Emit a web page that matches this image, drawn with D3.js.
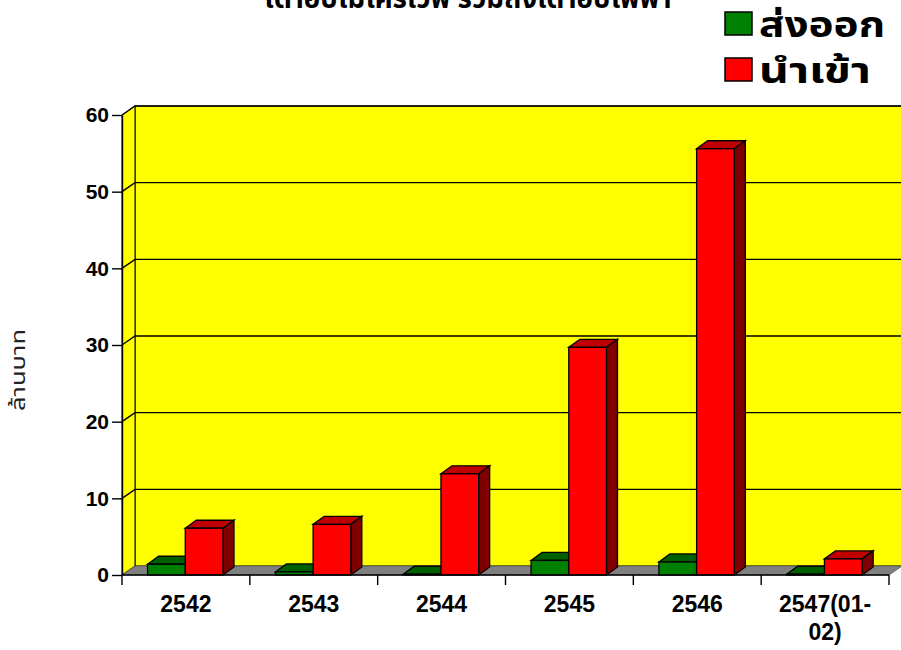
<!DOCTYPE html>
<html>
<head>
<meta charset="utf-8">
<script src="https://cdn.jsdelivr.net/npm/d3@7/dist/d3.min.js"></script>
<style>
  body { margin: 0; background: #fff; }
  svg { display: block; }
  .tick text { font-family: "Liberation Sans", Arial, sans-serif; font-weight: bold; fill: #000; }
</style>
</head>
<body>
<div id="chart"></div>
<script>
const categories = ["2542", "2543", "2544", "2545", "2546", "2547(01-02)"];
const xTickLabels = [["2542"], ["2543"], ["2544"], ["2545"], ["2546"], ["2547(01-", "02)"]];
const seriesNames = ["ส่งออก", "นำเข้า"];
const exportValues = [1.4, 0.4, 0.1, 1.9, 1.7, 0.1];
const importValues = [6.1, 6.6, 13.2, 29.7, 55.6, 2.1];
const yTicks = [0, 10, 20, 30, 40, 50, 60];
const titleText = "เตาอบไมโครเวฟ รวมถึงเตาอบไฟฟ้า";
const yLabel = "ล้านบาท";

const width = 901, height = 650;
const plotLeft = 122, plotRight = 889, plotTop = 115, plotBottom = 575;
// 3d depth of the walls and of the bars
const wdx = 13, wdy = -9;
const bdx = 11, bdy = -8;

const colors = [
  {front: "#008000", top: "#006000", side: "#004000"},
  {front: "#ff0000", top: "#c00000", side: "#800000"}
];

const svg = d3.select("#chart").append("svg")
  .attr("width", width)
  .attr("height", height);

const y = d3.scaleLinear().domain([0, 60]).range([plotBottom, plotTop]);
const x = d3.scaleBand().domain(categories).range([plotLeft, plotRight]);
const x1 = d3.scaleBand().domain(seriesNames)
  .range([0.2 * x.bandwidth(), 0.79 * x.bandwidth()]);

const thai = '"Noto Sans Thai", Tahoma, "Noto Sans", "DejaVu Sans", sans-serif';

// title, mostly cut off at top (as in the source image)
svg.append("text")
  .attr("x", 468)
  .attr("y", 8)
  .attr("text-anchor", "middle")
  .attr("font-family", thai)
  .attr("font-weight", "bold")
  .attr("font-size", 29)
  .attr("textLength", 407)
  .attr("lengthAdjust", "spacingAndGlyphs")
  .text(titleText);

// back wall
svg.append("rect")
  .attr("x", plotLeft + wdx)
  .attr("y", y(60) + wdy)
  .attr("width", width - plotLeft - wdx + 5)
  .attr("height", y(0) - y(60))
  .attr("fill", "#ffff00")
  .attr("stroke", "#000");

// left wall
svg.append("path")
  .attr("d", `M${plotLeft},${y(60)} L${plotLeft + wdx},${y(60) + wdy} L${plotLeft + wdx},${y(0) + wdy} L${plotLeft},${y(0)} Z`)
  .attr("fill", "#ffff00")
  .attr("stroke", "#000");

// gridlines
yTicks.filter(v => v > 0).forEach(v => {
  svg.append("path")
    .attr("d", `M${plotLeft},${y(v)} L${plotLeft + wdx},${y(v) + wdy} L${width + 5},${y(v) + wdy}`)
    .attr("fill", "none")
    .attr("stroke", "#000")
    .attr("stroke-width", 1.4);
});

// floor
svg.append("path")
  .attr("d", `M${plotLeft},${y(0)} L${plotRight},${y(0)} L${plotRight + wdx},${y(0) + wdy} L${plotLeft + wdx},${y(0) + wdy} Z`)
  .attr("fill", "#808080")
  .attr("stroke", "#555")
  .attr("stroke-width", 0.8);

// bars
function bar3d(g, x0, w, y0, y1, c) {
  g.append("path")
    .attr("d", `M${x0},${y1} L${x0 + bdx},${y1 + bdy} L${x0 + w + bdx},${y1 + bdy} L${x0 + w},${y1} Z`)
    .attr("fill", c.top).attr("stroke", "#000").attr("stroke-width", 1.3);
  g.append("path")
    .attr("d", `M${x0 + w},${y1} L${x0 + w + bdx},${y1 + bdy} L${x0 + w + bdx},${y0 + bdy} L${x0 + w},${y0} Z`)
    .attr("fill", c.side).attr("stroke", "#000").attr("stroke-width", 1.3);
  g.append("rect")
    .attr("x", x0).attr("y", y1)
    .attr("width", w).attr("height", y0 - y1)
    .attr("fill", c.front).attr("stroke", "#000").attr("stroke-width", 1.3);
}

const bars = svg.append("g");
categories.forEach((cat, i) => {
  [exportValues, importValues].forEach((vals, s) => {
    bar3d(bars, x(cat) + x1(seriesNames[s]), x1.bandwidth(), y(0), y(vals[i]), colors[s]);
  });
});

// y axis
svg.append("g")
  .attr("transform", `translate(${plotLeft},0)`)
  .call(d3.axisLeft(y).tickValues(yTicks).tickSize(10).tickSizeOuter(0).tickPadding(3))
  .call(g => g.selectAll("line, path").attr("stroke", "#000").attr("stroke-width", 1.4))
  .call(g => g.selectAll("text").attr("font-size", 21));

// x axis: ticks at band edges, labels centered
const xAxis = svg.append("g").attr("transform", `translate(0,${plotBottom})`);
xAxis.append("line")
  .attr("x1", plotLeft).attr("x2", plotRight)
  .attr("stroke", "#000").attr("stroke-width", 1.4);
categories.concat([null]).forEach(cat => {
  const xp = cat === null ? plotRight : x(cat);
  xAxis.append("line")
    .attr("x1", xp).attr("x2", xp)
    .attr("y1", 0).attr("y2", 10)
    .attr("stroke", "#000").attr("stroke-width", 1.4);
});
categories.forEach((cat, i) => {
  const t = xAxis.append("text")
    .attr("x", x(cat) + x.bandwidth() / 2)
    .attr("y", 37)
    .attr("text-anchor", "middle")
    .attr("font-family", '"Liberation Sans", Arial, sans-serif')
    .attr("font-weight", "bold")
    .attr("font-size", 23);
  xTickLabels[i].forEach((line, k) => {
    t.append("tspan")
      .attr("x", x(cat) + x.bandwidth() / 2)
      .attr("dy", k === 0 ? 0 : 28)
      .text(line);
  });
});

// y label
svg.append("text")
  .attr("transform", "translate(25,370) rotate(-90)")
  .attr("text-anchor", "middle")
  .attr("font-family", thai)
  .attr("font-size", 20)
  .attr("textLength", 82)
  .attr("lengthAdjust", "spacingAndGlyphs")
  .attr("fill", "#222")
  .text(yLabel);

// legend
const legendWidths = [126, 112];
const legend = svg.append("g");
seriesNames.forEach((name, s) => {
  legend.append("rect")
    .attr("x", 725).attr("y", 12 + s * 46)
    .attr("width", 27).attr("height", 23)
    .attr("fill", colors[s].front)
    .attr("stroke", "#000").attr("stroke-width", 1.5);
  legend.append("text")
    .attr("x", 759).attr("y", 37 + s * 46)
    .attr("font-family", thai)
    .attr("font-weight", "bold")
    .attr("font-size", 35)
    .attr("textLength", legendWidths[s])
    .attr("lengthAdjust", "spacingAndGlyphs")
    .text(name);
});
</script>
</body>
</html>
